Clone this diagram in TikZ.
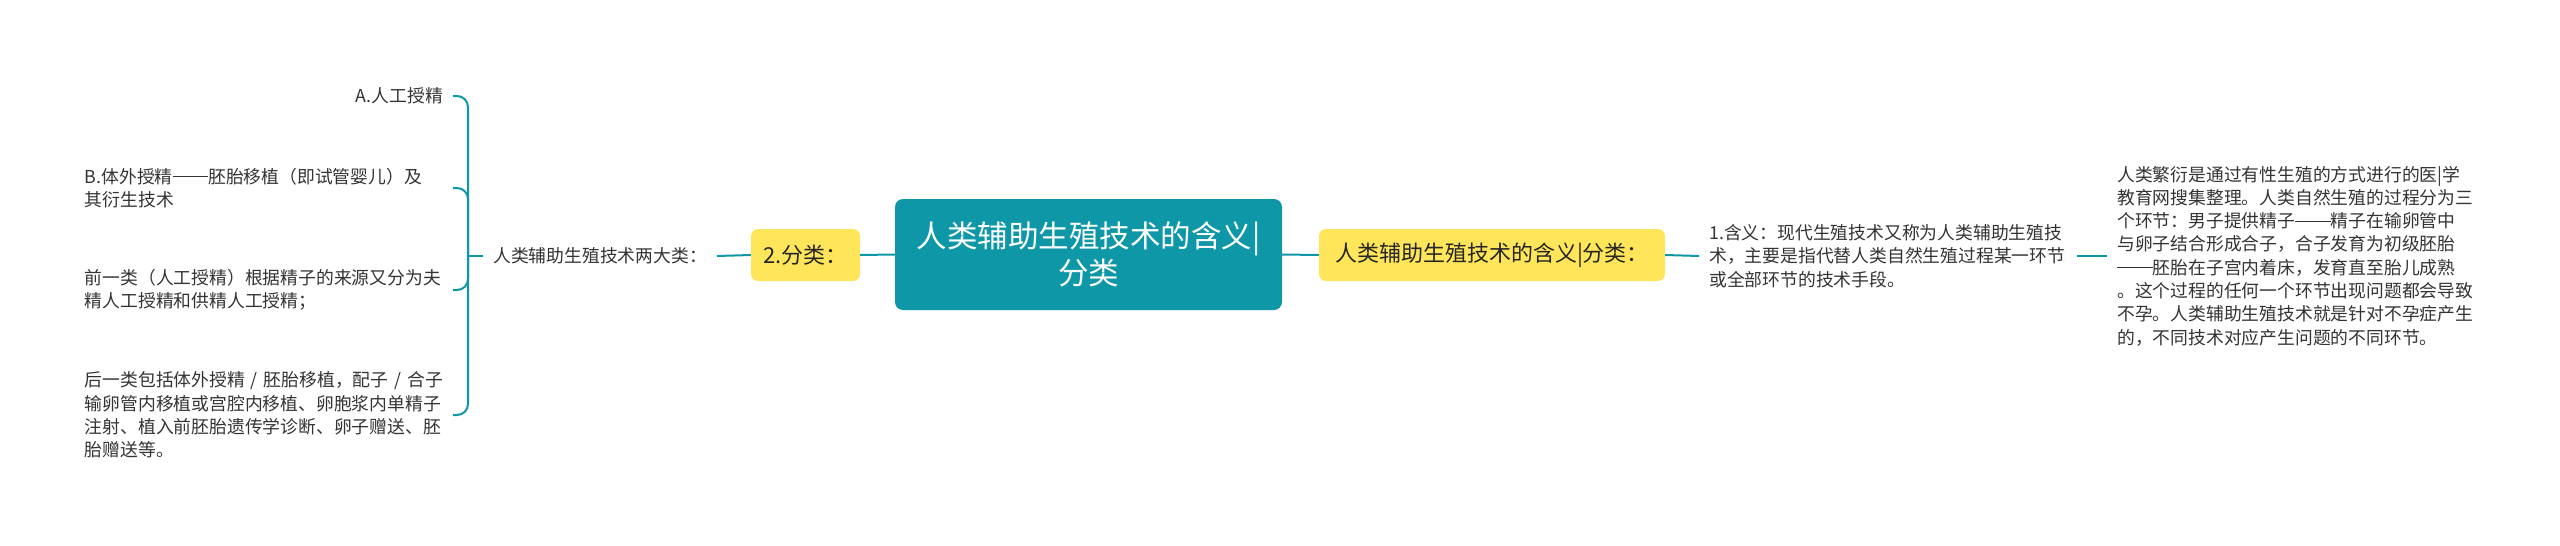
\documentclass[tikz,border=0pt]{standalone}
\usepackage{fontspec}
\setmainfont{Noto Sans CJK SC}
\usepackage{tikz}
\definecolor{mapteal}{HTML}{0E97A7}
\definecolor{mapyellow}{HTML}{FFE55A}
\definecolor{maptext}{HTML}{333333}
\newcommand{\twodash}{\rule[0.33em]{2em}{0.06em}}

\begin{document}
\begin{tikzpicture}[x=1pt,y=-1pt,
  line/.style={draw=mapteal,line width=2pt},
  root/.style={fill=mapteal,text=white,rounded corners=8pt,minimum width=387pt,minimum height=111pt,align=center,font=\fontsize{30.5}{37}\selectfont},
  topic/.style={fill=mapyellow,text=black!85,rounded corners=7pt,minimum height=52pt,font=\fontsize{22}{26}\selectfont},
  leaf/.style={text=maptext,inner xsep=10pt,inner ysep=0pt,font=\fontsize{17.8}{23.3}\selectfont},
  block/.style={leaf,text width=358pt,align=left}]
\useasboundingbox (0,0) rectangle (2560,546);
\node[root] (main) at (1088.5,254.5) {人类辅助生殖技术的含义|\\分类};
\node[topic,minimum width=109pt] (cat) at (805.5,255) {2.分类：};
\node[topic,minimum width=346pt] (def) at (1492,255) {人类辅助生殖技术的含义|分类：};
\node[leaf,anchor=east] (kinds) at (717,256) {人类辅助生殖技术两大类：};
\node[leaf,anchor=east] (itemA) at (453,96) {A.人工授精};
\node[block,anchor=east] (itemB) at (453,188) {B.体外授精\twodash 胚胎移植（即试管婴儿）及\\其衍生技术};
\node[block,anchor=east] (itemC) at (453,290) {前一类（人工授精）根据精子的来源又分为夫\\精人工授精和供精人工授精；};
\node[block,anchor=east] (itemD) at (453,415) {后一类包括体外授精~/~胚胎移植，配子~/~合子\\输卵管内移植或宫腔内移植、卵胞浆内单精子\\注射、植入前胚胎遗传学诊断、卵子赠送、胚\\胎赠送等。};
\node[block,anchor=west] (meaning) at (1699,256) {1.含义：现代生殖技术又称为人类辅助生殖技\\术，主要是指代替人类自然生殖过程某一环节\\或全部环节的技术手段。};
\node[block,anchor=west] (detail) at (2107,256) {人类繁衍是通过有性生殖的方式进行的医|学\\教育网搜集整理。人类自然生殖的过程分为三\\个环节：男子提供精子\twodash 精子在输卵管中\\与卵子结合形成合子，合子发育为初级胚胎\\\twodash 胚胎在子宫内着床，发育直至胎儿成熟\\。这个过程的任何一个环节出现问题都会导致\\不孕。人类辅助生殖技术就是针对不孕症产生\\的，不同技术对应产生问题的不同环节。};
\coordinate (hub) at (468,256);
\draw[line] (main.west) -- (cat.east);
\draw[line] (cat.west) -- (kinds.east);
\draw[line] (kinds.west) -- (hub);
\foreach \n in {itemA,itemB,itemC,itemD}
  \draw[line,rounded corners=11pt] (hub) |- (\n.east);
\draw[line] (main.east) -- (def.west);
\draw[line] (def.east) -- (meaning.west);
\draw[line] (meaning.east) -- (detail.west);
\end{tikzpicture}
\end{document}
